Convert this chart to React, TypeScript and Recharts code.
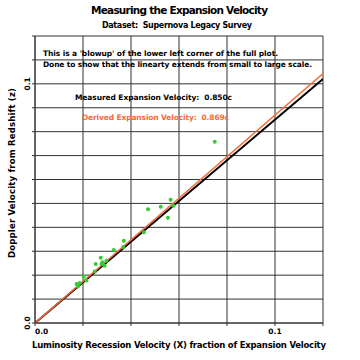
import React from "react";
import {
  CartesianGrid,
  ComposedChart,
  Line,
  Scatter,
  XAxis,
  YAxis,
} from "recharts";

// grid every 0.01, labels only at 0.0 and 0.1
const gridTicks = [0, 0.01, 0.02, 0.03, 0.04, 0.05, 0.06, 0.07, 0.08, 0.09, 0.1, 0.11, 0.12];
const labelledTicks: Record<string, string> = { "0": "0.0", "0.1": "0.1" };

// supernova points (X = luminosity velocity, z = redshift velocity)
const snX = [
  0.0173, 0.0179, 0.0186, 0.0203, 0.0214, 0.0249, 0.0253, 0.0274, 0.0277, 0.0281, 0.029,
  0.0298, 0.0328, 0.037, 0.0367, 0.0454, 0.0471, 0.0524, 0.0565, 0.0554, 0.0577, 0.0749,
];
const snZ = [
  0.0163, 0.0153, 0.0167, 0.0194, 0.0178, 0.0215, 0.0247, 0.0273, 0.0247, 0.0254, 0.0239,
  0.026, 0.0305, 0.0344, 0.0318, 0.0379, 0.0476, 0.0486, 0.0515, 0.044, 0.049, 0.0758,
];

const measuredSlope = 0.85;
const derivedSlope = 0.869;
const lineX = [0, 0.12];

const points = snX.map((x, i) => ({ x, y: snZ[i] }));
const measuredLine = lineX.map((x) => ({ x, y: x * measuredSlope }));
const derivedLine = lineX.map((x) => ({ x, y: x * derivedSlope }));

const FONT = "'DejaVu Sans', 'Liberation Sans', sans-serif";
const ORANGE = "#f26b3a";

const XTick = (props: any) => {
  const { x, y, payload } = props;
  const label = labelledTicks[String(payload.value)];
  if (!label) return null;
  return (
    <text
      x={x}
      y={y + 6}
      textAnchor={payload.value === 0 ? "start" : "middle"}
      fontFamily={FONT}
      fontWeight="bold"
      fontSize={7.5}
      fill="#000"
    >
      {label}
    </text>
  );
};

const YTick = (props: any) => {
  const { y, payload } = props;
  const label = labelledTicks[String(payload.value)];
  if (!label) return null;
  return (
    <text
      x={30}
      y={y}
      transform={`rotate(-90 30 ${y})`}
      textAnchor="middle"
      fontFamily={FONT}
      fontWeight="bold"
      fontSize={7.5}
      fill="#000"
    >
      {label}
    </text>
  );
};

export default function App() {
  return (
    <div style={{ position: "absolute", left: 0, top: 0, width: 360, height: 360, background: "#fff" }}>
      <ComposedChart
        width={360}
        height={360}
        margin={{ top: 36, right: 37, bottom: 12, left: 10 }}
      >
        <CartesianGrid stroke="#333" strokeWidth={1} horizontalValues={gridTicks} verticalValues={gridTicks} />
        <XAxis
          type="number"
          dataKey="x"
          domain={[0, 0.12]}
          ticks={gridTicks}
          allowDataOverflow
          height={25}
          tickSize={3}
          stroke="#333"
          tick={<XTick />}
        />
        <YAxis
          type="number"
          dataKey="y"
          domain={[0, 0.12]}
          ticks={gridTicks}
          allowDataOverflow
          width={25}
          tickSize={3}
          stroke="#333"
          tick={<YTick />}
        />
        <Scatter data={points} fill="#33cc33" shape={(p: any) => <circle cx={p.cx} cy={p.cy} r={2} fill="#33cc33" />} isAnimationActive={false} />
        <Line data={measuredLine} dataKey="y" stroke="#000" strokeWidth={2} dot={false} isAnimationActive={false} />
        <Line data={derivedLine} dataKey="y" stroke={ORANGE} strokeWidth={1.5} dot={false} isAnimationActive={false} />
      </ComposedChart>
      <svg
        width={360}
        height={360}
        style={{ position: "absolute", left: 0, top: 0, pointerEvents: "none" }}
      >
        <g fontFamily={FONT} fontWeight="bold" fill="#000">
          <text x={91} y={14} fontSize={10.5} textLength={177} lengthAdjust="spacing">
            Measuring the Expansion Velocity
          </text>
          <text x={102} y={28} fontSize={8} textLength={150} lengthAdjust="spacing" xmlSpace="preserve">
            {"Dataset:  Supernova Legacy Survey"}
          </text>
          <text x={43} y={56} fontSize={7.5} textLength={235} lengthAdjust="spacing">
            {"This is a 'blowup' of the lower left corner of the full plot."}
          </text>
          <text x={43} y={67} fontSize={7.5} textLength={269} lengthAdjust="spacing">
            {"Done to show that the linearty extends from small to large scale."}
          </text>
          <text x={75} y={100} fontSize={7.5} textLength={157} lengthAdjust="spacing" xmlSpace="preserve">
            {"Measured Expansion Velocity:  0.850c"}
          </text>
          <text x={82} y={120} fontSize={7.5} fill={ORANGE} textLength={147} lengthAdjust="spacing" xmlSpace="preserve">
            {"Derived Expansion Velocity:  0.869c"}
          </text>
          <text x={32} y={348} fontSize={8.5} textLength={294} lengthAdjust="spacing">
            Luminosity Recession Velocity (X) fraction of Expansion Velocity
          </text>
          <text
            x={15}
            y={173}
            fontSize={8.5}
            textAnchor="middle"
            textLength={170}
            lengthAdjust="spacing"
            transform="rotate(-90 15 173)"
          >
            Doppler Velocity from Redshift (z)
          </text>
        </g>
      </svg>
    </div>
  );
}
